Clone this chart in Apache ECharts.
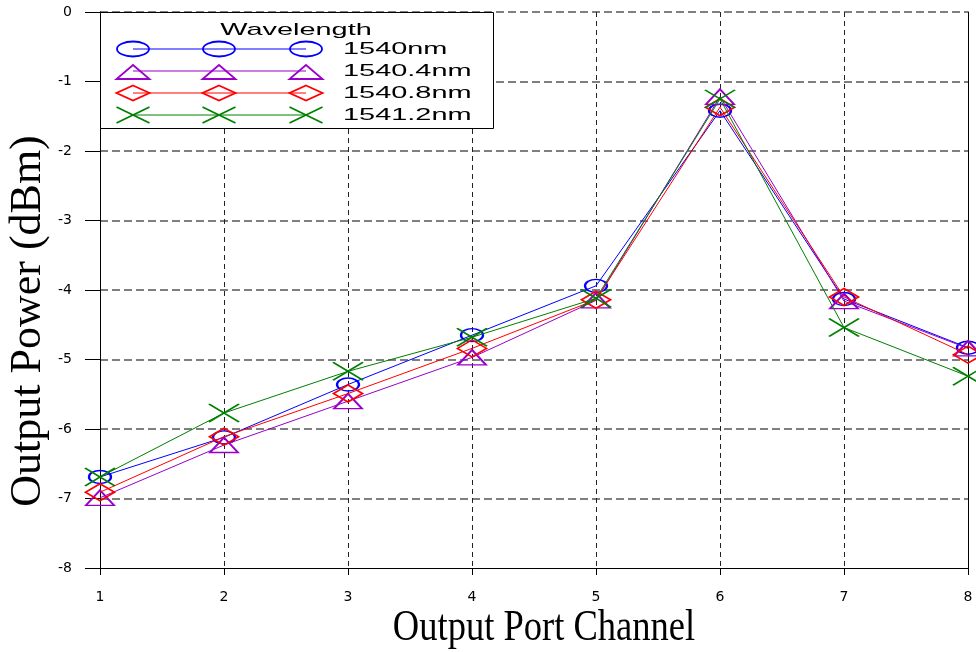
<!DOCTYPE html>
<html>
<head>
<meta charset="utf-8">
<script src="https://cdn.jsdelivr.net/npm/echarts@6/dist/echarts.min.js"></script>
<style>
html,body{margin:0;padding:0;background:#fff;}
#chart{width:976px;height:652px;}
</style>
</head>
<body>
<div id="chart"></div>
<script>
// ---- data ----
const channels = [1, 2, 3, 4, 5, 6, 7, 8];
const wavelengths = ['1540nm', '1540.4nm', '1540.8nm', '1541.2nm'];
const power1540 = [-6.69, -6.12, -5.36, -4.65, -3.94, -1.42, -4.13, -4.83];
const power1540_4 = [-6.99, -6.23, -5.60, -4.97, -4.15, -1.22, -4.16, -4.84];
const power1540_8 = [-6.91, -6.11, -5.49, -4.84, -4.14, -1.37, -4.10, -4.93];
const power1541_2 = [-6.69, -5.77, -5.17, -4.68, -4.12, -1.25, -4.54, -5.24];
const legendTitle = 'Wavelength';
const xTitle = 'Output Port Channel';
const yTitle = 'Output Power (dBm)';

// ---- styles ----
const colors = ['#0000ff', '#9900cc', '#ff0000', '#008000'];
const markerKinds = ['circle', 'triangle', 'diamond', 'x'];
const seriesSymbols = [
  'path://M0,10A10,10 0 1,1 20,10A10,10 0 1,1 0,10Z',
  'triangle',
  'diamond',
  'path://M0,0L20,20M20,0L0,20'
];
const seriesSymbolSizes = [[22, 13], [28, 15], [29, 17], [30, 18]];
const allValues = [power1540, power1540_4, power1540_8, power1541_2];

const series = allValues.map((vals, i) => ({
  name: wavelengths[i],
  type: 'line',
  data: channels.map((c, j) => [c, vals[j]]),
  symbol: seriesSymbols[i],
  symbolSize: seriesSymbolSizes[i],
  clip: false,
  lineStyle: { color: colors[i], width: 1 },
  itemStyle: { color: 'rgba(0,0,0,0)', borderColor: colors[i], borderWidth: 1.8 },
  emphasis: { disabled: true },
  z: 3 + i
}));

// ---- legend drawn with graphic elements ----
const legendRowY = [49, 71, 93, 115];
const legendMarkerX = [133, 219, 306];
function legendMarker(kind, cx, cy, color) {
  const st = { fill: 'none', stroke: color, lineWidth: 1.8 };
  if (kind === 'circle') {
    return [{ type: 'ellipse', shape: { cx: cx, cy: cy, rx: 16, ry: 7.5 }, style: st }];
  }
  if (kind === 'triangle') {
    return [{ type: 'polygon', shape: { points: [[cx, cy - 6], [cx + 16.5, cy + 8], [cx - 16.5, cy + 8]] }, style: st }];
  }
  if (kind === 'diamond') {
    return [{ type: 'polygon', shape: { points: [[cx, cy - 7.5], [cx + 16.5, cy], [cx, cy + 7.5], [cx - 16.5, cy]] }, style: st }];
  }
  return [
    { type: 'line', shape: { x1: cx - 16.5, y1: cy - 8, x2: cx + 16.5, y2: cy + 8 }, style: st },
    { type: 'line', shape: { x1: cx + 16.5, y1: cy - 8, x2: cx - 16.5, y2: cy + 8 }, style: st }
  ];
}
const graphics = [];
graphics.push({ type: 'rect', shape: { x: 100.5, y: 12.5, width: 393, height: 116 },
  style: { fill: '#fff', stroke: '#000', lineWidth: 1 }, z: 100 });
graphics.push({ type: 'text', x: 296, y: 30, scaleX: 1.7, z: 101,
  style: { text: legendTitle, fontSize: 17, fontFamily: 'Liberation Sans, Arial, sans-serif', fill: '#000',
           align: 'center', verticalAlign: 'middle', textAlign: 'center', textVerticalAlign: 'middle' } });
wavelengths.forEach((w, i) => {
  const y = legendRowY[i];
  graphics.push({ type: 'line', z: 101,
    shape: { x1: legendMarkerX[0], y1: y, x2: legendMarkerX[2], y2: y },
    style: { stroke: colors[i], lineWidth: 1 } });
  legendMarkerX.forEach(mx => {
    legendMarker(markerKinds[i], mx, y, colors[i]).forEach(el => { el.z = 102; graphics.push(el); });
  });
  graphics.push({ type: 'text', x: 343, y: y, scaleX: 1.7, z: 101,
    style: { text: w, fontSize: 17, fontFamily: 'Liberation Sans, Arial, sans-serif', fill: '#000',
             align: 'left', verticalAlign: 'middle', textAlign: 'left', textVerticalAlign: 'middle' } });
});
// axis titles
graphics.push({ type: 'text', x: 544, y: 628, scaleX: 0.83, z: 101,
  style: { text: xTitle, fontSize: 44, fontFamily: 'Liberation Serif, Times New Roman, serif', fill: '#000',
           align: 'center', verticalAlign: 'middle', textAlign: 'center', textVerticalAlign: 'middle' } });
graphics.push({ type: 'text', x: 28, y: 321, rotation: Math.PI / 2, z: 101,
  style: { text: yTitle, fontSize: 44, fontFamily: 'Liberation Serif, Times New Roman, serif', fill: '#000',
           align: 'center', verticalAlign: 'middle', textAlign: 'center', textVerticalAlign: 'middle' } });

const labelFont = { fontSize: 14, fontFamily: 'DejaVu Sans, sans-serif', color: '#000' };

const option = {
  animation: false,
  backgroundColor: '#fff',
  grid: { left: 100, top: 12, right: 8, bottom: 84, containLabel: false },
  xAxis: {
    type: 'value', min: 1, max: 8, interval: 1,
    axisLine: { show: true, onZero: false, lineStyle: { color: '#000', width: 1 } },
    axisTick: { show: true, length: 7, lineStyle: { color: '#000', width: 1 } },
    axisLabel: Object.assign({ margin: 22 }, labelFont),
    splitLine: { show: true, showMinLine: false, showMaxLine: false,
                 lineStyle: { type: [5, 4], color: '#222', width: 1 } }
  },
  yAxis: [
    {
      type: 'value', min: -8, max: 0, interval: 1,
      axisLine: { show: true, onZero: false, lineStyle: { color: '#000', width: 1 } },
      axisTick: { show: true, length: 15, lineStyle: { color: '#000', width: 1 } },
      axisLabel: Object.assign({ margin: 28 }, labelFont),
      splitLine: { show: true, showMinLine: false, showMaxLine: true,
                   lineStyle: { type: [8, 4], color: '#555', width: 1.5 } }
    },
    {
      type: 'value', min: -8, max: 0, interval: 1, position: 'right',
      axisLine: { show: true, onZero: false, lineStyle: { color: '#000', width: 1 } },
      axisTick: { show: false }, axisLabel: { show: false }, splitLine: { show: false }
    }
  ],
  graphic: { elements: graphics },
  series: series
};

const chart = echarts.init(document.getElementById('chart'), null, { renderer: 'canvas' });
chart.setOption(option);
</script>
</body>
</html>
